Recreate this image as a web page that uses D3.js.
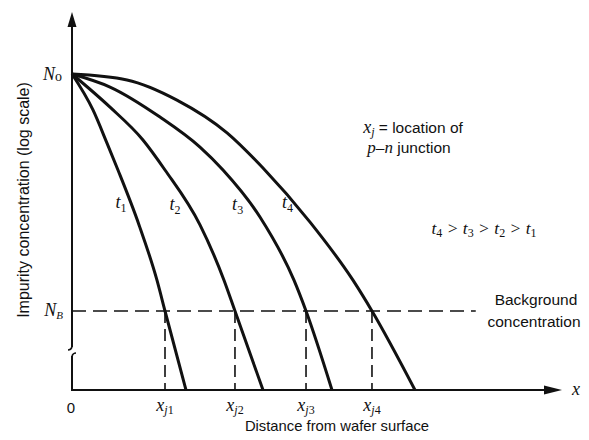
<!DOCTYPE html>
<html>
<head>
<meta charset="utf-8">
<script src="https://cdn.jsdelivr.net/npm/d3@7/dist/d3.min.js"></script>
<style>
  html, body { margin: 0; padding: 0; background: #fff; }
  svg { display: block; }
  .sans { font-family: "Liberation Sans", Arial, Helvetica, sans-serif; fill: #111; }
  .math { font-family: "Liberation Serif", "Times New Roman", serif; font-style: italic; fill: #111; }
</style>
</head>
<body>
<svg id="chart" width="589" height="440"></svg>
<script>
// Diffusion profiles: depth (µm) vs log10 of impurity concentration (cm^-3)
const curveNames = ["1", "2", "3", "4"];
const t1Depth = [0, 0.214, 0.357, 0.469, 0.684, 0.867, 0.949, 1.163];
const t1LogN  = [21, 20.09, 19.25, 18.57, 17.18, 15.78, 15.0, 13.0];
const t2Depth = [0, 0.388, 0.724, 0.949, 1.306, 1.551, 1.663, 1.949];
const t2LogN  = [21, 20.16, 19.33, 18.57, 17.18, 15.78, 15.0, 13.0];
const t3Depth = [0, 0.388, 0.898, 1.306, 1.541, 1.918, 2.265, 2.388, 2.653];
const t3LogN  = [21, 20.67, 19.91, 19.15, 18.57, 17.38, 15.78, 15.0, 13.0];
const t4Depth = [0, 0.561, 1.071, 1.582, 1.949, 2.429, 2.867, 3.061, 3.5];
const t4LogN  = [21, 20.85, 20.34, 19.51, 18.62, 17.25, 15.78, 15.0, 13.0];

// Surface concentration, background concentration, junction depths
const surfaceN = 1e21;
const backgroundN = 1e15;
const junctionDepths = [0.949, 1.663, 2.388, 3.061];
const xDomain = [0, 5];
const nDomain = [1e13, 1e21];

// Label positions beside each curve (depth, log10 N)
const curveLabelDepth = [0.5, 1.05, 1.69, 2.2];
const curveLabelLogN  = [17.6, 17.55, 17.55, 17.6];

const svg = d3.select("#chart");
svg.append("rect").attr("width", 589).attr("height", 440).attr("fill", "#fff");

const x = d3.scaleLinear().domain(xDomain).range([72, 562]);
const y = d3.scaleLog().domain(nDomain).range([390, 74]);

const ink = "#111";

// Axes
const yTop = 12;
const breakTop = 347, breakBottom = 356;
const axes = svg.append("g").attr("stroke", ink).attr("stroke-width", 2).attr("fill", "none");
axes.append("line").attr("x1", x(0)).attr("x2", x(0)).attr("y1", yTop + 8).attr("y2", breakTop);
axes.append("line").attr("x1", x(0)).attr("x2", x(0)).attr("y1", breakBottom).attr("y2", y(nDomain[0]));
// axis break marks
axes.append("path").attr("stroke-width", 1.6)
  .attr("d", `M${x(0)},${breakTop} q-1,3 -4,3 M${x(0)},${breakBottom} q1,-3 4,-3`);
axes.append("line").attr("x1", x(0) - 1).attr("x2", x(xDomain[1]) - 14)
  .attr("y1", y(nDomain[0])).attr("y2", y(nDomain[0]));

// Arrowheads
svg.append("path").attr("fill", ink)
  .attr("d", `M${x(0)},${yTop} L${x(0) - 4.5},${yTop + 15} L${x(0) + 4.5},${yTop + 15} Z`);
svg.append("path").attr("fill", ink)
  .attr("d", `M${x(xDomain[1])},${y(nDomain[0])} L${x(xDomain[1]) - 18},${y(nDomain[0]) - 4.5} L${x(xDomain[1]) - 18},${y(nDomain[0]) + 4.5} Z`);

// Background concentration line and junction drops
const dash = svg.append("g").attr("stroke", ink).attr("stroke-width", 1.6)
  .attr("fill", "none");
dash.append("line").attr("x1", x(0)).attr("x2", x(4.12))
  .attr("y1", y(backgroundN)).attr("y2", y(backgroundN))
  .attr("stroke-dasharray", "14,7");
dash.selectAll("line.drop").data(junctionDepths).enter().append("line")
  .attr("class", "drop")
  .attr("x1", d => x(d)).attr("x2", d => x(d))
  .attr("y1", y(backgroundN)).attr("y2", y(nDomain[0]))
  .attr("stroke-dasharray", "12,6");

// Profiles
const profiles = [
  t1Depth.map((d, i) => [d, t1LogN[i]]),
  t2Depth.map((d, i) => [d, t2LogN[i]]),
  t3Depth.map((d, i) => [d, t3LogN[i]]),
  t4Depth.map((d, i) => [d, t4LogN[i]])
];
const line = d3.line()
  .x(d => x(d[0]))
  .y(d => y(Math.pow(10, d[1])))
  .curve(d3.curveMonotoneX);
svg.append("g").selectAll("path").data(profiles).enter().append("path")
  .attr("d", line)
  .attr("fill", "none").attr("stroke", ink).attr("stroke-width", 3)
  .attr("stroke-linecap", "butt");

// Curve labels t1..t4
curveNames.forEach((n, i) => {
  const t = svg.append("text").attr("class", "math").attr("font-size", 18)
    .attr("x", x(curveLabelDepth[i])).attr("y", y(Math.pow(10, curveLabelLogN[i])))
    .attr("text-anchor", "middle");
  t.append("tspan").text("t");
  t.append("tspan").attr("font-size", 12).attr("font-style", "normal").attr("dy", 4).text(n);
});

// Y-axis level labels
const n0 = svg.append("text").attr("class", "math").attr("font-size", 18)
  .attr("x", 62).attr("y", y(surfaceN) + 6).attr("text-anchor", "end");
n0.append("tspan").text("N");
n0.append("tspan").attr("font-style", "normal").attr("font-size", 14).attr("dy", 1).text("o");

const nb = svg.append("text").attr("class", "math").attr("font-size", 18)
  .attr("x", 63).attr("y", y(backgroundN) + 5).attr("text-anchor", "end");
nb.append("tspan").text("N");
nb.append("tspan").attr("font-size", 11).attr("dy", 3).text("B");

// Junction depth labels
junctionDepths.forEach((d, i) => {
  const t = svg.append("text").attr("class", "math").attr("font-size", 18)
    .attr("x", x(d)).attr("y", 411).attr("text-anchor", "middle");
  t.append("tspan").text("x");
  t.append("tspan").attr("font-size", 12).attr("dy", 3).text("j");
  t.append("tspan").attr("font-size", 12).attr("font-style", "normal").text(curveNames[i]);
});

svg.append("text").attr("class", "sans").attr("font-size", 15)
  .attr("x", x(0) - 1).attr("y", 413).attr("text-anchor", "middle").text("0");
svg.append("text").attr("class", "math").attr("font-size", 18)
  .attr("x", 576).attr("y", 395).attr("text-anchor", "middle").text("x");

// Axis titles
svg.append("text").attr("class", "sans").attr("font-size", 14.8)
  .attr("x", 337).attr("y", 431).attr("text-anchor", "middle")
  .text("Distance from wafer surface");
svg.append("text").attr("class", "sans").attr("font-size", 16)
  .attr("transform", "translate(29,200) rotate(-90)")
  .attr("text-anchor", "middle")
  .text("Impurity concentration (log scale)");

// Annotations
const a1 = svg.append("text").attr("class", "sans").attr("font-size", 15.5)
  .attr("x", 413).attr("y", 133).attr("text-anchor", "middle");
a1.append("tspan").attr("class", "math").attr("font-size", 18).text("x");
a1.append("tspan").attr("class", "math").attr("font-size", 12).attr("dy", 3).text("j");
a1.append("tspan").attr("dy", -3).text(" = location of");
const a2 = svg.append("text").attr("class", "sans").attr("font-size", 15.5)
  .attr("x", 409).attr("y", 153).attr("text-anchor", "middle");
a2.append("tspan").attr("class", "math").attr("font-size", 17).text("p");
a2.append("tspan").text("–");
a2.append("tspan").attr("class", "math").attr("font-size", 17).text("n");
a2.append("tspan").text(" junction");

const order = svg.append("text").attr("class", "math").attr("font-size", 17.5)
  .attr("x", 484).attr("y", 234).attr("text-anchor", "middle");
["4", "3", "2", "1"].forEach((n, i) => {
  order.append("tspan").attr("dy", i === 0 ? 0 : -3).text((i === 0 ? "" : " > ") + "t");
  order.append("tspan").attr("font-size", 12).attr("font-style", "normal").attr("dy", 3).text(n);
});

svg.append("text").attr("class", "sans").attr("font-size", 15.5)
  .attr("x", 536).attr("y", 305).attr("text-anchor", "middle").text("Background");
svg.append("text").attr("class", "sans").attr("font-size", 15.5)
  .attr("x", 534).attr("y", 327).attr("text-anchor", "middle").text("concentration");
</script>
</body>
</html>
